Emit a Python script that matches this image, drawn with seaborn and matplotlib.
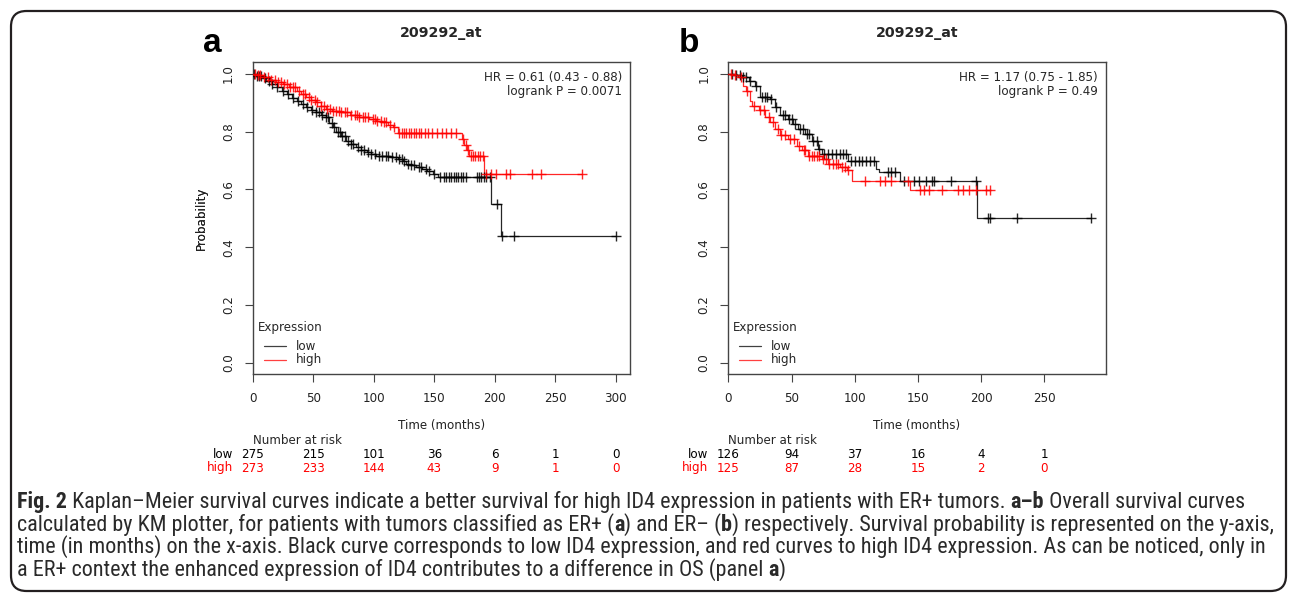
"""Fig. 2 - KM curves for ID4 (209292_at) in ER+ / ER- tumors."""

import matplotlib

matplotlib.use("Agg")

import matplotlib.pyplot as plt
import numpy as np
import pandas as pd
import seaborn as sns
from matplotlib import font_manager
from matplotlib.patches import FancyBboxPatch

W, H = 1296, 599

PROBE = "209292_at"
GROUPS = ["low", "high"]
GROUP_COLORS = {"low": "#000000", "high": "#ff0000"}

# panel a: ER+
A_LOW_T = [3, 8, 11, 16, 20, 24, 28, 32, 36, 40, 44, 48, 52, 56, 60, 63, 66, 69, 73, 77, 81, 85, 89, 94, 98,
           102, 108, 113, 120, 124, 127, 131, 135, 140, 144, 149, 153, 197, 205]
A_LOW_S = [0.994, 0.985, 0.976, 0.965, 0.953, 0.942, 0.93, 0.918, 0.907, 0.896, 0.884, 0.875, 0.867, 0.858,
           0.85, 0.83, 0.815, 0.8, 0.786, 0.768, 0.758, 0.746, 0.737, 0.729, 0.722, 0.717, 0.714, 0.712, 0.705,
           0.7, 0.689, 0.683, 0.677, 0.67, 0.663, 0.652, 0.643, 0.551, 0.439]
A_LOW_CENS = [1, 3, 5, 7, 10, 13, 16, 20, 25, 29, 33, 37, 41, 45, 49, 52, 55, 57, 60, 62, 65, 67, 70, 72, 74,
              76, 79, 81, 83, 87, 89, 92, 95, 98, 101, 104, 107, 110, 112, 115, 118, 121, 123, 125, 128, 131,
              133, 137, 139, 143, 146, 150, 155, 158, 160, 162, 164, 166, 168, 170, 172, 174, 176, 185, 187,
              189, 191, 193, 196, 202, 206, 216, 300]

A_HIGH_T = [4, 9, 14, 19, 25, 30, 36, 40, 44, 48, 52, 56, 60, 65, 72, 80, 88, 96, 102, 107, 112, 116, 120,
            173, 175, 177, 179, 191]
A_HIGH_S = [0.995, 0.988, 0.98, 0.972, 0.965, 0.955, 0.942, 0.93, 0.919, 0.91, 0.902, 0.89, 0.879, 0.872,
            0.867, 0.856, 0.85, 0.844, 0.838, 0.832, 0.824, 0.815, 0.795, 0.775, 0.755, 0.735, 0.714, 0.652]
A_HIGH_CENS = [2, 4, 6, 9, 12, 15, 18, 21, 23, 26, 28, 31, 33, 35, 38, 41, 43, 46, 48, 51, 53, 56, 59, 61,
               64, 66, 69, 71, 73, 76, 78, 81, 84, 86, 88, 91, 93, 95, 99, 101, 103, 106, 108, 110, 113, 117,
               121, 123, 125, 127, 129, 131, 133, 135, 137, 139, 142, 145, 148, 152, 156, 160, 164, 168,
               174, 176, 178, 180, 182, 184, 186, 188, 190, 193, 197, 201, 209, 213, 231, 238, 272]

A_HR = "HR = 0.61 (0.43 - 0.88)"
A_P = "logrank P = 0.0071"
A_TICKS = [0, 50, 100, 150, 200, 250, 300]
A_RISK_LOW = [275, 215, 101, 36, 6, 1, 0]
A_RISK_HIGH = [273, 233, 144, 43, 9, 1, 0]

# panel b: ER-
B_LOW_T = [5, 11, 16, 21, 25, 33, 37, 41, 47, 51, 55, 61, 66, 71, 74, 95, 117, 119, 136, 197]
B_LOW_S = [0.995, 0.988, 0.977, 0.959, 0.919, 0.913, 0.884, 0.856, 0.844, 0.827, 0.81, 0.792, 0.769, 0.741,
           0.723, 0.7, 0.671, 0.66, 0.629, 0.502]
B_LOW_CENS = [3, 6, 9, 12, 14, 17, 22, 27, 29, 31, 34, 38, 43, 45, 48, 50, 53, 57, 59, 62, 64, 67, 70, 72,
              76, 79, 82, 85, 88, 91, 93, 97, 100, 103, 106, 109, 112, 115, 126, 129, 132, 139, 147, 151,
              156, 161, 163, 176, 196, 205, 207, 228, 287]

B_HIGH_T = [4, 8, 12, 14, 17, 19, 24, 29, 33, 37, 41, 47, 54, 58, 63, 74, 79, 88, 94, 98, 144]
B_HIGH_S = [0.995, 0.988, 0.959, 0.942, 0.907, 0.89, 0.875, 0.85, 0.833, 0.81, 0.787, 0.775, 0.752, 0.735,
            0.717, 0.706, 0.689, 0.677, 0.666, 0.629, 0.597]
B_HIGH_CENS = [2, 5, 10, 15, 20, 25, 28, 32, 35, 39, 42, 45, 49, 52, 56, 60, 61, 64, 66, 68, 70, 72, 75, 77,
               80, 83, 85, 87, 90, 92, 95, 108, 120, 124, 129, 142, 152, 155, 159, 169, 182, 186, 190, 196,
               204, 207]

B_HR = "HR = 1.17 (0.75 - 1.85)"
B_P = "logrank P = 0.49"
B_TICKS = [0, 50, 100, 150, 200, 250]
B_RISK_LOW = [126, 94, 37, 16, 4, 1]
B_RISK_HIGH = [125, 87, 28, 15, 2, 0]

CAPTION = [
    [("Fig. 2", "bold"),
     (" Kaplan–Meier survival curves indicate a better survival for high ID4 expression in patients with "
      "ER+ tumors. ", "normal"),
     ("a–b", "bold"),
     (" Overall survival curves", "normal")],
    [("calculated by KM plotter, for patients with tumors classified as ER+ (", "normal"),
     ("a", "bold"),
     (") and ER– (", "normal"),
     ("b", "bold"),
     (") respectively. Survival probability is represented on the y-axis,", "normal")],
    [("time (in months) on the x-axis. Black curve corresponds to low ID4 expression, and red curves to high "
      "ID4 expression. As can be noticed, only in", "normal")],
    [("a ER+ context the enhanced expression of ID4 contributes to a difference in OS (panel ", "normal"),
     ("a", "bold"),
     (")", "normal")],
]

sns.set_theme(style="ticks")
plt.rcParams["font.family"] = ["DejaVu Sans"]


def pick_caption_font():
    entries = font_manager.fontManager.ttflist
    names = {f.name for f in entries}
    for name in ("Liberation Sans Narrow", "Roboto Condensed", "Open Sans Condensed", "Noto Sans Condensed"):
        if name in names:
            return [name, "DejaVu Sans"], "normal"
    if any(f.name == "DejaVu Sans" and "ondensed" in f.fname for f in entries):
        return ["DejaVu Sans"], "condensed"
    return ["Liberation Sans", "DejaVu Sans"], "normal"


CAPTION_FONT, CAPTION_STRETCH = pick_caption_font()

TXT = 8.6


def fig_xy(x, y):
    return x / W, 1 - y / H


def make_axes(fig, left, top, right, bottom):
    return fig.add_axes([left / W, 1 - bottom / H, (right - left) / W, (bottom - top) / H])


def km_frame(times, surv, end):
    t = [0.0] + list(times) + [end]
    s = [1.0] + list(surv) + [surv[-1]]
    return pd.DataFrame({"time": t, "surv": s})


def censor_frame(times, surv, cens):
    t = np.array([0.0] + list(times))
    s = np.array([1.0] + list(surv))
    idx = np.searchsorted(t, cens, side="right") - 1
    return pd.DataFrame({"time": cens, "surv": s[idx]})


def draw_panel(fig, box, letter, curves, hr, pval, ticks, risk_low, risk_high):
    left, top, right, bottom = box
    ax = make_axes(fig, left, top, right, bottom)

    def ax_xy(x, y):
        return (x - left) / (right - left), (bottom - y) / (bottom - top)

    xmax = 0
    for group, (times, surv, cens) in curves.items():
        end = max(cens)
        xmax = max(xmax, end)
        color = GROUP_COLORS[group]
        sns.lineplot(data=km_frame(times, surv, end), x="time", y="surv", drawstyle="steps-post",
                     color=color, lw=0.9, alpha=0.85, estimator=None, sort=False, ax=ax)
        sns.scatterplot(data=censor_frame(times, surv, cens), x="time", y="surv", marker="+", s=55,
                        color=color, linewidth=1.0, alpha=0.85, ax=ax, zorder=3)

    ax.set_xlim(0, xmax * 1.04)
    ax.set_ylim(-0.04, 1.04)
    ax.set_xticks(ticks)
    ax.set_yticks([0.0, 0.2, 0.4, 0.6, 0.8, 1.0])
    ax.set_yticklabels(["0.0", "0.2", "0.4", "0.6", "0.8", "1.0"], rotation=90, va="center")
    ax.tick_params(direction="out", length=6, width=0.8, color="#444444", labelcolor="#222222",
                   labelsize=TXT, pad=7)
    for spine in ax.spines.values():
        spine.set_visible(True)
        spine.set_color("#444444")
        spine.set_linewidth(1.0)

    ax.set_xlabel("Time (months)", fontsize=TXT, color="#222222")
    ax.xaxis.set_label_coords(0.5, ax_xy(0, 419)[1])
    ax.set_ylabel("Probability", fontsize=TXT, color="#222222")
    ax.yaxis.set_label_coords(ax_xy(208, 0)[0], 0.5)

    ax.text(*ax_xy(right - 8, 78), hr, transform=ax.transAxes, ha="right", va="center", fontsize=TXT)
    ax.text(*ax_xy(right - 8, 92), pval, transform=ax.transAxes, ha="right", va="center", fontsize=TXT)

    # legend, R style
    ax.text(*ax_xy(left + 5, 327), "Expression", transform=ax.transAxes, ha="left", va="center", fontsize=TXT)
    for i, group in enumerate(GROUPS):
        y = 346 + 14 * i
        x0, yy = ax_xy(left + 11, y)
        x1, _ = ax_xy(left + 33, y)
        ax.plot([x0, x1], [yy, yy], transform=ax.transAxes, color=GROUP_COLORS[group], lw=0.9, alpha=0.75)
        ax.text(*ax_xy(left + 43, y), group, transform=ax.transAxes, ha="left", va="center", fontsize=TXT)

    fig.text(*fig_xy((left + right) / 2, 33), PROBE, ha="center", va="center", fontsize=10.2,
             fontweight="bold")
    fig.text(*fig_xy(left - 50, 43), letter, ha="left", va="center", fontsize=24, fontweight="bold",
             color="black", family=["Liberation Sans", "DejaVu Sans"])

    # number at risk
    trans = ax.get_xaxis_transform()
    fig.text(*fig_xy(left, 440), "Number at risk", ha="left", va="center", fontsize=TXT)
    for group, counts, y in (("low", risk_low, 454), ("high", risk_high, 468)):
        color = GROUP_COLORS[group]
        ay = ax_xy(0, y)[1]
        fig.text(*fig_xy(left - 20, y), group, ha="right", va="center", fontsize=TXT, color=color)
        for tick, n in zip(ticks, counts):
            ax.text(tick, ay, str(n), transform=trans, ha="center", va="center", fontsize=TXT, color=color,
                    clip_on=False)
    return ax


def caption_text(fig, x, y, txt, size, weight):
    return fig.text(x, y, txt, fontsize=size, fontweight=weight, family=CAPTION_FONT,
                    fontstretch=CAPTION_STRETCH, ha="left", va="center", color="#2a2a2a")


def piece_width(fig, renderer, txt, size, weight):
    probe = caption_text(fig, 0, 0, "x" + txt + "x", size, weight)
    ref = caption_text(fig, 0, 0, "xx", size, weight)
    w = probe.get_window_extent(renderer).width - ref.get_window_extent(renderer).width
    probe.remove()
    ref.remove()
    return w


def draw_caption(fig, x_start, x_end, line_ys):
    renderer = fig.canvas.get_renderer()
    base = 12
    width = sum(piece_width(fig, renderer, t, base, wgt) for t, wgt in CAPTION[2])
    size = base * (x_end - x_start) / width
    for line, y in zip(CAPTION, line_ys):
        x = x_start
        for txt, weight in line:
            caption_text(fig, *fig_xy(x, y), txt, size, weight)
            x += piece_width(fig, renderer, txt, size, weight)


def main() -> None:
    fig = plt.figure(figsize=(W / 100, H / 100), dpi=100)
    fig.patch.set_facecolor("white")

    draw_panel(fig, (253, 62.3, 630, 374.3), "a",
               {"low": (A_LOW_T, A_LOW_S, A_LOW_CENS), "high": (A_HIGH_T, A_HIGH_S, A_HIGH_CENS)},
               A_HR, A_P, A_TICKS, A_RISK_LOW, A_RISK_HIGH)
    draw_panel(fig, (728.3, 62.3, 1105.7, 374.3), "b",
               {"low": (B_LOW_T, B_LOW_S, B_LOW_CENS), "high": (B_HIGH_T, B_HIGH_S, B_HIGH_CENS)},
               B_HR, B_P, B_TICKS, B_RISK_LOW, B_RISK_HIGH)

    draw_caption(fig, 17, 1263, [502, 525, 547, 570])

    border = FancyBboxPatch((11 / W, 1 - 591 / H), (1286 - 11) / W, (591 - 11) / H,
                            boxstyle="round,pad=0,rounding_size=0.012", transform=fig.transFigure,
                            fill=False, edgecolor="#231f20", lw=1.6, mutation_aspect=W / H)
    fig.add_artist(border)

    fig.savefig("out.png", dpi=100)


if __name__ == "__main__":
    main()
